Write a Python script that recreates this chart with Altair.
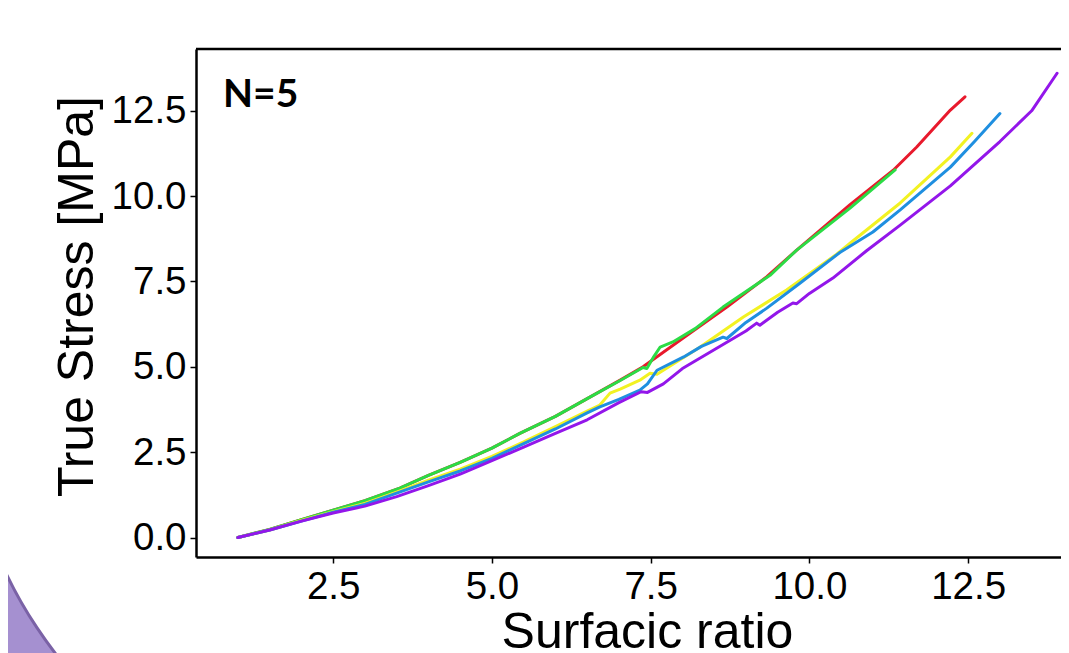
import altair as alt
import pandas as pd

# ---- data ----
red_x = [1.0, 1.5, 2.0, 2.5, 3.0, 3.55, 4.0, 4.5, 5.0, 5.44, 6.0, 6.55, 7.02, 7.38, 8.04, 8.7, 9.33, 9.8, 10.64, 11.32, 11.69, 12.22, 12.45]
red_y = [0.0, 0.24, 0.52, 0.8, 1.08, 1.45, 1.82, 2.2, 2.62, 3.05, 3.55, 4.12, 4.61, 5.0, 5.88, 6.75, 7.64, 8.42, 9.75, 10.76, 11.44, 12.52, 12.91]

green_x = [1.0, 1.5, 2.0, 2.5, 3.0, 3.55, 4.0, 4.5, 5.0, 5.44, 6.0, 6.55, 7.02, 7.38, 7.44, 7.55, 7.65, 7.85, 8.2, 8.64, 9.38, 9.8, 10.64, 11.35]
green_y = [0.0, 0.24, 0.52, 0.8, 1.08, 1.45, 1.82, 2.2, 2.62, 3.05, 3.55, 4.12, 4.6, 4.98, 4.95, 5.3, 5.58, 5.73, 6.12, 6.75, 7.68, 8.42, 9.65, 10.77]

yellow_x = [1.0, 1.5, 2.0, 2.5, 3.0, 3.5, 4.0, 4.5, 5.0, 5.5, 6.0, 6.5, 6.7, 6.86, 7.02, 7.33, 7.49, 7.6, 8.28, 8.96, 9.64, 10.43, 10.64, 11.43, 12.22, 12.56]
yellow_y = [0.0, 0.22, 0.5, 0.76, 1.0, 1.33, 1.68, 2.0, 2.38, 2.8, 3.25, 3.7, 3.88, 4.23, 4.35, 4.61, 4.81, 4.78, 5.58, 6.46, 7.25, 8.3, 8.62, 9.8, 11.15, 11.84]

blue_x = [1.0, 1.5, 2.0, 2.5, 3.0, 3.5, 4.0, 4.5, 5.0, 5.5, 6.0, 6.5, 6.7, 7.0, 7.33, 7.45, 7.6, 8.02, 8.3, 8.64, 8.7, 9.0, 9.33, 9.85, 10.48, 11.0, 11.43, 12.22, 12.6, 13.0]
blue_y = [0.0, 0.22, 0.48, 0.74, 0.97, 1.3, 1.63, 1.95, 2.32, 2.75, 3.18, 3.65, 3.83, 4.05, 4.32, 4.5, 4.9, 5.29, 5.6, 5.87, 5.83, 6.3, 6.72, 7.45, 8.35, 8.95, 9.6, 10.85, 11.6, 12.42]

purple_x = [1.0, 1.5, 2.0, 2.5, 3.0, 3.5, 4.0, 4.5, 5.0, 5.5, 6.0, 6.5, 7.0, 7.35, 7.45, 7.7, 8.0, 8.5, 9.0, 9.17, 9.22, 9.5, 9.74, 9.8, 10.0, 10.37, 10.9, 11.43, 12.22, 13.0, 13.5, 13.9]
purple_y = [0.0, 0.22, 0.48, 0.72, 0.92, 1.2, 1.52, 1.86, 2.25, 2.65, 3.05, 3.45, 3.95, 4.27, 4.25, 4.5, 4.95, 5.5, 6.05, 6.28, 6.22, 6.6, 6.87, 6.85, 7.15, 7.6, 8.4, 9.15, 10.3, 11.6, 12.5, 13.6]

series = [
    ("red", red_x, red_y, "#e8192c"),
    ("green", green_x, green_y, "#2bdc45"),
    ("yellow", yellow_x, yellow_y, "#f2f222"),
    ("blue", blue_x, blue_y, "#1f8fe0"),
    ("purple", purple_x, purple_y, "#9316ea"),
]

x_ticks = [2.5, 5.0, 7.5, 10.0, 12.5]
y_ticks = [0.0, 2.5, 5.0, 7.5, 10.0, 12.5]
x_title = "Surfacic ratio"
y_title = "True Stress [MPa]"
annotation = "N=5"

W, H = 865, 508
FONT = "Liberation Sans"

xscale = alt.Scale(domain=[0.34, 0.34 + W / 63.5], nice=False, zero=False)
yscale = alt.Scale(domain=[-0.57, 14.31], nice=False, zero=False)

xaxis = alt.Axis(values=x_ticks, format=".1f", title=x_title, grid=False,
                 labelFont=FONT, labelFontSize=38.5, labelColor="black", labelPadding=5,
                 tickSize=6, tickWidth=1.5, tickColor="black",
                 domainColor="black", domainWidth=2.5,
                 titleFont=FONT, titleFontSize=50, titleFontWeight="normal", titleColor="black",
                 titleX=451, titleY=90, titleBaseline="alphabetic", titleAnchor="middle")
yaxis = alt.Axis(values=y_ticks, format=".1f", title=y_title, grid=False,
                 labelFont=FONT, labelFontSize=38.5, labelColor="black", labelPadding=4,
                 tickSize=6, tickWidth=1.5, tickColor="black",
                 domainColor="black", domainWidth=2.5,
                 titleFont=FONT, titleFontSize=50, titleFontWeight="normal", titleColor="black",
                 titleX=-104, titleY=247, titleBaseline="alphabetic", titleAngle=270)

deco = alt.Chart(pd.DataFrame({"k": [0]})).mark_arc(
    theta=3.5, theta2=4.75, radius=800, radius2=442,
    fill="#a590d0", stroke="#7a62a6", strokeWidth=3
).encode(x=alt.value(209), y=alt.value(334))

layers = [deco]
for name, xs, ys, col in series:
    df = pd.DataFrame({"x": xs, "y": ys, "i": list(range(len(xs)))})
    layers.append(alt.Chart(df).mark_line(color=col, strokeWidth=3, clip=True,
                                          strokeCap="round", strokeJoin="round").encode(
        x=alt.X("x:Q", scale=xscale, axis=xaxis),
        y=alt.Y("y:Q", scale=yscale, axis=yaxis),
        order="i:O",
    ))

top_rule = alt.Chart(pd.DataFrame({"k": [0]})).mark_rule(color="black", strokeWidth=2.5).encode(
    x=alt.value(0), x2=alt.value(W), y=alt.value(0))

label = alt.Chart(pd.DataFrame({"t": [annotation]})).mark_text(
    font="Lato", fontSize=39, fontWeight="bold", color="black", align="left", baseline="alphabetic"
).encode(x=alt.value(27), y=alt.value(58), text="t:N")

layers += [top_rule, label]

chart = alt.layer(*layers).properties(
    width=W, height=H,
    autosize=alt.AutoSizeParams(type="none"),
    padding={"left": 188, "top": 41, "right": 0, "bottom": 96},
).configure_view(stroke=None).configure(background="white")

chart.save("out.html", embed_options={"renderer": "svg", "actions": False})
